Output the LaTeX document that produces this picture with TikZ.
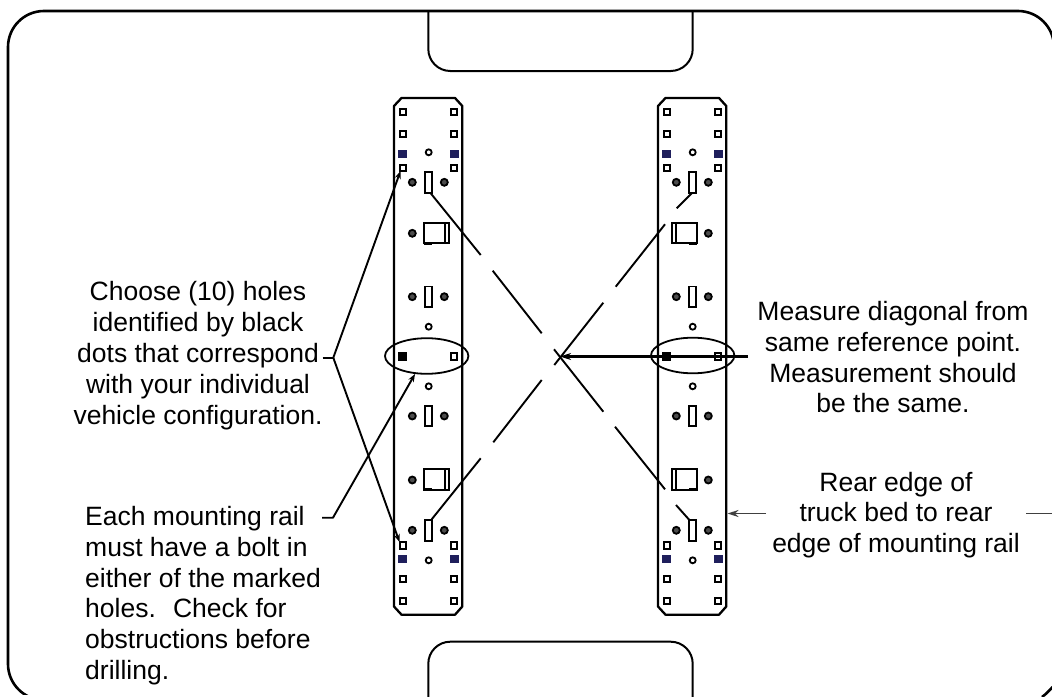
\documentclass[tikz,border=0pt]{standalone}
\usepackage{fontspec}
\setmainfont{Liberation Sans}
\usetikzlibrary{arrows.meta,shapes.geometric}
\definecolor{navyhole}{HTML}{1F1F5C}
\definecolor{greyarrow}{HTML}{404040}
\tikzset{
  x=1pt,y=-1pt,
  outline/.style={draw=black,line width=2.6pt},
  tabline/.style={draw=black,line width=2pt,rounded corners=22pt},
  railline/.style={draw=black,line width=2.3pt,line join=round},
  openhole/.style={rectangle,draw=black,line width=2pt,inner sep=0pt,minimum size=6.4pt},
  navyholes/.style={rectangle,fill=navyhole,inner sep=0pt,minimum width=9pt,minimum height=8.6pt},
  blackhole/.style={rectangle,fill=black,inner sep=0pt,minimum size=9pt},
  ringhole/.style={circle,draw=black,line width=1.8pt,inner sep=0pt,minimum size=6pt},
  bolt/.style={circle,draw=black,fill=black!70,line width=1.8pt,inner sep=0pt,minimum size=7pt},
  slot/.style={rectangle,draw=black,line width=1.9pt,inner sep=0pt,minimum width=6.4pt,minimum height=20.5pt},
  wideslot/.style={draw=black,line width=1.9pt},
  oval/.style={ellipse,draw=black,line width=1.8pt,inner sep=0pt,minimum width=83.4pt,minimum height=35.6pt},
  diag/.style={draw=black,line width=1.9pt},
  leader/.style={draw=black,line width=1.9pt,line join=round},
  leadertip/.style={-{Stealth[length=8pt,width=6pt]}},
  label/.style={inner sep=0pt,font=\fontsize{26.5}{30.8}\selectfont},
  rail/.pic={
    \draw[railline] (394,106) -- (401.5,98) -- (455,98) -- (462.3,106) -- (462.3,606.5) -- (455,614.7) -- (401.5,614.7) -- (394,606.5) -- cycle;
    \foreach \yy/\nn in {111.7/a,133.7/b,167.7/c,545.3/d,579/e,601/f}{
      \node[openhole] (-l\nn) at (402.7,\yy) {};
      \node[openhole] (-r\nn) at (454,\yy) {};
    }
    \foreach \yy/\nn in {154/a,559/b}{
      \node[navyholes] (-ln\nn) at (402.7,\yy) {};
      \node[navyholes] (-rn\nn) at (454,\yy) {};
    }
    \foreach \yy/\nn in {152.3/a,326.7/b,386.3/c,560.3/d}{
      \node[ringhole] (-c\nn) at (428.7,\yy) {};
    }
    \foreach \yy/\nn in {182.3/a,296.7/b,416/c,530.3/d}{
      \node[bolt] (-bl\nn) at (412.3,\yy) {};
      \node[bolt] (-br\nn) at (444.3,\yy) {};
      \node[slot] (-s\nn) at (428.5,\yy) {};
    }
  },
  wide/.pic={
    \draw[wideslot] (0,0) rectangle (25,20.5);
    \draw[wideslot] (20.5,0) -- (20.5,20.5);
    \draw[wideslot,line width=3.2pt] (0,20.5) -- (8,20.5);
  }
}
\begin{document}
\begin{tikzpicture}
\useasboundingbox (0,0) rectangle (1052,696);
\begin{scope}
\clip (0,0) rectangle (1052,696);
% frame
\draw[outline,rounded corners=36pt] (1054,700) -- (1054,11) -- (8,11) -- (8,700) -- (1054,700);
\fill[white] (0,694.5) rectangle (1052,700);
\fill[white] (1000,640) rectangle (1052,700);
\coordinate (brA) at (1052.5,687);
\coordinate (brB) at (1042,697);
\draw[outline] (brA) .. controls (1049,691) and (1046,694) .. (brB);
% tabs
\draw[tabline] (428.3,11) -- (428.3,71) -- (692.7,71) -- (692.7,11);
\draw[tabline] (428.3,700) -- (428.3,641.7) -- (692.7,641.7) -- (692.7,700);
% rails
\pic (L) at (0,0) {rail};
\pic (R) at (264,0) {rail};
\pic at (424.3,222.7) {wide};
\pic at (424.3,469.3) {wide};
\pic[xscale=-1] at (696.7,222.7) {wide};
\pic[xscale=-1] at (696.7,469.3) {wide};
\node[bolt] (Lwa) at (412.3,233.3) {};
\node[bolt] (Lwb) at (412.3,480) {};
\node[bolt] (Rwa) at (708.3,233.3) {};
\node[bolt] (Rwb) at (708.3,480) {};
% marked holes
\node[blackhole] (Lmidl) at (402.7,356.5) {};
\node[openhole] (Lmidr) at (454,356.5) {};
\node[blackhole] (Rmidl) at (666.7,356.5) {};
\node[openhole] (Rmidr) at (717.7,356.5) {};
\node[oval] (Loval) at (426.7,356) {};
\node[oval] (Roval) at (692.7,355.5) {};
% labels
\node[label,align=center,anchor=north] (choose) at (198,281.5) {Choose (10) holes\\identified by black\\dots that correspond\\with your individual\\vehicle configuration.};
\node[label,align=left,anchor=north west] (each) at (85,506) {Each mounting rail\\must have a bolt in\\either of the marked\\holes. \ Check for\\obstructions before\\drilling.};
\node[label,align=center,anchor=north] (measure) at (893,301) {Measure diagonal from\\same reference point.\\Measurement should\\be the same.};
\node[label,align=center,anchor=north] (rear) at (896,471.7) {Rear edge of\\truck bed to rear\\edge of mounting rail};
% diagonal A
\foreach \i/\ax/\ay/\bx/\by in {1/430.7/193.3/480.7/255,2/492.7/270.7/541.7/333.3,3/554/349.3/603.3/411.7,4/615/426.7/665/489.3,5/676/505/690/520.7}{
  \coordinate (A\i s) at (\ax,\ay);
  \coordinate (A\i e) at (\bx,\by);
  \draw[diag] (A\i s) -- (A\i e);
}
% diagonal B
\foreach \i/\ax/\ay/\bx/\by in {1/431.7/519.3/480.7/458.3,2/493.3/442.3/541.7/380,3/554.3/365/603.3/302.7,4/615.7/286.7/665/224.3,5/676.7/208.3/691.7/193.3}{
  \coordinate (B\i s) at (\ax,\ay);
  \coordinate (B\i e) at (\bx,\by);
  \draw[diag] (B\i s) -- (B\i e);
}
% leaders
\coordinate (chooseStub) at (322.7,357.7);
\coordinate (chooseJoin) at (333.3,357.7);
\coordinate (tipUp) at (400.5,171);
\coordinate (tipDown) at (399.5,542);
\coordinate (eachStub) at (322,517.7);
\coordinate (eachJoin) at (333,517.7);
\coordinate (tipOval) at (415,374);
\draw[leader] (chooseStub) -- (chooseJoin);
\draw[leader,leadertip] (chooseJoin) -- (tipUp);
\draw[leader,leadertip] (chooseJoin) -- (tipDown);
\draw[leader,leadertip] (eachStub) -- (eachJoin) -- (tipOval);
% measure arrow
\coordinate (measureEnd) at (748,356.5);
\coordinate (cross) at (560,356.5);
\draw[leader,line width=2.2pt,-{Stealth[length=11pt,width=7pt]}] (measureEnd) -- (cross);
% rear arrow
\coordinate (rearL) at (766,513.5);
\coordinate (rearTip) at (727.5,513.5);
\coordinate (rearR) at (1026,513.5);
\coordinate (rearEdge) at (1052,513.5);
\draw[draw=greyarrow,line width=1.9pt,-{Stealth[length=11pt,width=7pt,color=greyarrow]}] (rearL) -- (rearTip);
\draw[draw=greyarrow,line width=1.9pt] (rearR) -- (rearEdge);
\end{scope}
\end{tikzpicture}
\end{document}
